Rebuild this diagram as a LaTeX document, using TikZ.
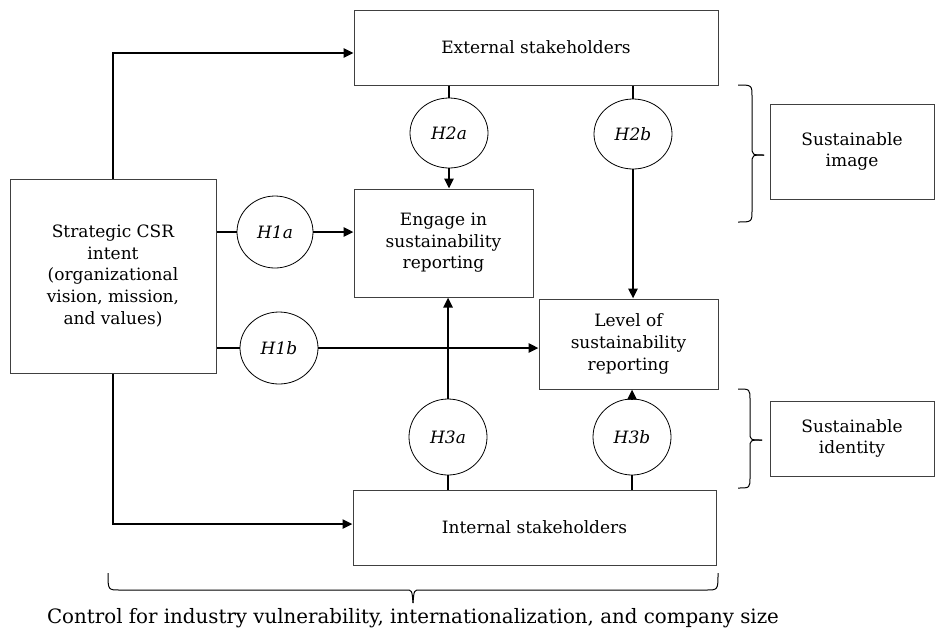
\documentclass[tikz,border=0pt]{standalone}
\usepackage{fontspec}
\setmainfont{DejaVu Serif}
\usetikzlibrary{arrows.meta,shapes.geometric}
\newcommand\diagfont{\fontsize{17}{21.6}\selectfont}
\newcommand\ctrlfont{\fontsize{19.8}{23}\selectfont}
\begin{document}
\begin{tikzpicture}[x=1pt,y=-1pt,
  box/.style={draw=black!75, line width=1pt, rectangle, inner sep=0pt, align=center, font=\diagfont},
  hyp/.style={draw=black, line width=0.8pt, ellipse, inner sep=0pt, font=\diagfont\itshape},
  conn/.style={line width=2.4pt, black},
  arr/.style={conn, -{Triangle[length=10pt,width=9pt]}},
  brc/.style={line width=1pt, black}]
\useasboundingbox (0,0) rectangle (936,638);
% boxes
\node[box, minimum width=364, minimum height=75] (ext) at (536,47.5) {External stakeholders};
\node[box, minimum width=206, minimum height=194] (strat) at (113,276) {Strategic CSR\\intent\\(organizational\\vision, mission,\\and values)};
\node[box, minimum width=179, minimum height=108] (engage) at (443.5,243) {Engage in\\sustainability\\reporting};
\node[box, minimum width=179, minimum height=90] (level) at (628.5,344) {Level of\\sustainability\\reporting};
\node[box, minimum width=363, minimum height=75] (int) at (534.5,527.5) {Internal stakeholders};
\node[box, minimum width=164, minimum height=95] (simage) at (852,151.5) {Sustainable\\image};
\node[box, minimum width=164, minimum height=75] (sident) at (852,438.5) {Sustainable\\identity};
% hypotheses
\node[hyp, minimum width=76, minimum height=72] (h1a) at (275,232) {H1a};
\node[hyp, minimum width=78, minimum height=72] (h1b) at (279,348) {H1b};
\node[hyp, minimum width=78, minimum height=70] (h2a) at (449,133) {H2a};
\node[hyp, minimum width=78, minimum height=70] (h2b) at (633,134) {H2b};
\node[hyp, minimum width=78, minimum height=76] (h3a) at (448,437) {H3a};
\node[hyp, minimum width=78, minimum height=76] (h3b) at (632,437) {H3b};
% connectors
\draw[arr] (strat.north) |- ([yshift=-5.5pt]ext.west);
\draw[arr] (strat.south) |- ([yshift=3.5pt]int.west);
\draw[conn] (strat.east |- h1a.west) -- (h1a.west);
\draw[arr] (h1a.east) -- (engage.west |- h1a.east);
\draw[conn] (strat.east |- h1b.west) -- (h1b.west);
\draw[arr] (h1b.east) -- (level.west |- h1b.east);
\draw[conn] (ext.south -| h2a.north) -- (h2a.north);
\draw[arr] (h2a.south) -- (engage.north -| h2a.south);
\draw[conn] (ext.south -| h2b.north) -- (h2b.north);
\draw[arr] (h2b.south) -- (level.north -| h2b.south);
\draw[conn] (int.north -| h3a.south) -- (h3a.south);
\draw[arr] (h3a.north) -- (engage.south -| h3a.north);
\draw[conn] (int.north -| h3b.south) -- (h3b.south);
\draw[arr] (h3b.north) -- (level.south -| h3b.north);
% braces
\draw[brc] (738,85) .. controls (752,85) .. (752,97) -- (752,146) .. controls (752,155) .. (764,155);
\draw[brc] (764,155) .. controls (752,155) .. (752,164) -- (752,210) .. controls (752,222) .. (738,222);
\draw[brc] (738,389) .. controls (750,389) .. (750,400) -- (750,432) .. controls (750,440) .. (762,440);
\draw[brc] (762,440) .. controls (750,440) .. (750,448) -- (750,477) .. controls (750,488) .. (738,488);
\draw[brc] (108,573) .. controls (108,590) .. (120,590) -- (406,590) .. controls (412,590) .. (413,603);
\draw[brc] (413,603) .. controls (414,590) .. (420,590) -- (706,590) .. controls (718,590) .. (718,573);
\node[font=\ctrlfont, inner sep=0pt] (ctrl) at (413,618) {Control for industry vulnerability, internationalization, and company size};
\end{tikzpicture}
\end{document}
